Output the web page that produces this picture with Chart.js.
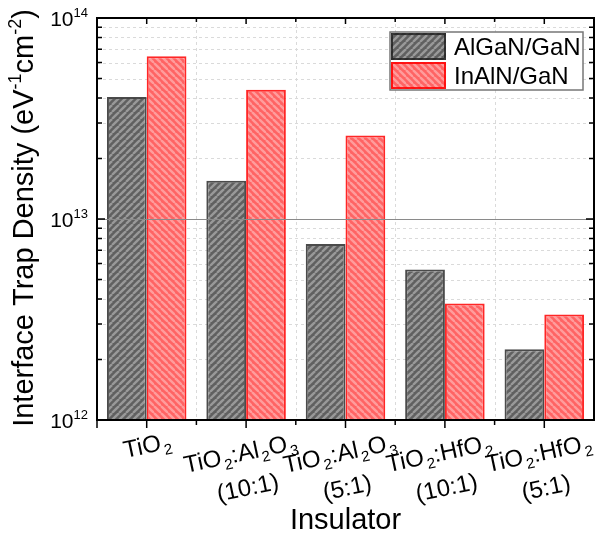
<!DOCTYPE html>
<html>
<head>
<meta charset="utf-8">
<script src="https://cdn.jsdelivr.net/npm/chart.js@4.4.0/dist/chart.umd.min.js"></script>
<style>
  html, body { margin: 0; padding: 0; background: #fff; }
</style>
</head>
<body>
<canvas id="chart" width="600" height="536"></canvas>
<script>
// data
const categories = ['TiO_2', 'TiO_2:Al_2O_3|(10:1)', 'TiO_2:Al_2O_3|(5:1)', 'TiO_2:HfO_2|(10:1)', 'TiO_2:HfO_2|(5:1)'];
const seriesNames = ['AlGaN/GaN', 'InAlN/GaN'];
const alganValues = [4.05e13, 1.55e13, 7.5e12, 5.6e12, 2.25e12];
const inalnValues = [6.45e13, 4.4e13, 2.6e13, 3.8e12, 3.35e12];
const yTickValues = [1e12, 1e13, 1e14];
const yTickLabels = ['10^{12}', '10^{13}', '10^{14}'];
const yTitle = 'Interface Trap Density (eV^{-1}cm^{-2})';
const xTitle = 'Insulator';

const FONT = '"Liberation Sans", Arial, sans-serif';

function stripes(bg, fg, dir) {
    const s = 7;
    const c = document.createElement('canvas');
    c.width = s; c.height = s;
    const g = c.getContext('2d');
    g.fillStyle = bg;
    g.fillRect(0, 0, s, s);
    g.strokeStyle = fg;
    g.lineWidth = 2.4;
    for (const o of [-s, 0, s]) {
        g.beginPath();
        if (dir === '/') { g.moveTo(o, s); g.lineTo(o + s, 0); }
        else { g.moveTo(o, 0); g.lineTo(o + s, s); }
        g.stroke();
    }
    return g.createPattern(c, 'repeat');
}

const ctx = document.getElementById('chart');
const grayPat = stripes('#606060', '#999999', '/');
const redPat = stripes('#ff6464', '#ff9c9c', '\\');

// tiny markup: _x subscript, ^{..} superscript, | new line
function parseRich(s) {
    const runs = [];
    let i = 0, buf = '';
    const push = (t, k) => { if (t) runs.push({ t, k }); };
    while (i < s.length) {
        const c = s[i];
        if (c === '_' || c === '^') {
            push(buf, 'n'); buf = '';
            let t;
            if (s[i + 1] === '{') { const j = s.indexOf('}', i); t = s.slice(i + 2, j); i = j + 1; }
            else { t = s[i + 1]; i += 2; }
            push(t, c === '_' ? 'sub' : 'sup');
        } else { buf += c; i++; }
    }
    push(buf, 'n');
    return runs;
}

function runFont(k, size) {
    const sz = k === 'n' ? size : Math.round(size * 0.62);
    return sz + 'px ' + FONT;
}

function richWidth(g, runs, size) {
    let w = 0;
    for (const r of runs) {
        g.font = runFont(r.k, size);
        w += g.measureText(r.t).width + (r.k === 'sub' ? size * 0.08 : 0);
    }
    return w;
}

function drawRich(g, text, x, y, size, align) {
    const runs = parseRich(text);
    const w = richWidth(g, runs, size);
    let cx = align === 'center' ? x - w / 2 : align === 'right' ? x - w : x;
    g.textAlign = 'left';
    g.textBaseline = 'alphabetic';
    for (const r of runs) {
        g.font = runFont(r.k, size);
        let dy = 0;
        if (r.k === 'sub') { cx += size * 0.08; dy = size * 0.22; }
        if (r.k === 'sup') dy = -size * 0.42;
        g.fillText(r.t, cx, y + dy);
        cx += g.measureText(r.t).width;
    }
}

const decor = {
    id: 'decor',
    beforeDatasetsDraw(chart) {
        const { ctx: g, chartArea: a, scales: { x, y } } = chart;
        g.save();
        g.strokeStyle = '#dadada';
        g.lineWidth = 1;
        g.setLineDash([3, 3]);
        for (let d = 12; d < 14; d++) {
            for (let k = 2; k <= 9; k++) {
                const py = Math.round(y.getPixelForValue(k * Math.pow(10, d))) + 0.5;
                g.beginPath(); g.moveTo(a.left, py); g.lineTo(a.right, py); g.stroke();
            }
        }
        for (let i = 0; i < categories.length - 1; i++) {
            const px = Math.round((x.getPixelForValue(i) + x.getPixelForValue(i + 1)) / 2) + 0.5;
            g.beginPath(); g.moveTo(px, a.top); g.lineTo(px, a.bottom); g.stroke();
        }
        g.restore();
    },
    afterDatasetsDraw(chart) {
        const { ctx: g, chartArea: a, scales: { x, y } } = chart;
        g.save();
        // major gridline at 10^13
        const p13 = Math.round(y.getPixelForValue(1e13)) + 0.5;
        g.strokeStyle = '#8a8a8a';
        g.lineWidth = 1;
        g.beginPath(); g.moveTo(a.left, p13); g.lineTo(a.right, p13); g.stroke();

        // frame
        g.strokeStyle = '#000';
        g.lineWidth = 2;
        g.strokeRect(a.left, a.top, a.right - a.left, a.bottom - a.top);

        // y ticks, both sides, inward
        g.lineWidth = 1.5;
        for (let d = 12; d <= 14; d++) {
            for (let k = 1; k <= 9; k++) {
                if (d === 14 && k > 1) break;
                const py = y.getPixelForValue(k * Math.pow(10, d));
                const len = k === 1 ? 8 : 5;
                g.beginPath();
                g.moveTo(a.left, py); g.lineTo(a.left + len, py);
                g.moveTo(a.right, py); g.lineTo(a.right - len, py);
                g.stroke();
            }
        }
        // x ticks: bottom outward, top inward
        for (let i = 0; i < categories.length; i++) {
            const px = x.getPixelForValue(i);
            g.beginPath();
            g.moveTo(px, a.bottom); g.lineTo(px, a.bottom + 8);
            g.moveTo(px, a.top); g.lineTo(px, a.top + 6);
            g.stroke();
            if (i < categories.length - 1) {
                const mx = (px + x.getPixelForValue(i + 1)) / 2;
                g.beginPath();
                g.moveTo(mx, a.bottom); g.lineTo(mx, a.bottom + 5);
                g.moveTo(mx, a.top); g.lineTo(mx, a.top + 4);
                g.stroke();
            }
        }
        g.beginPath();
        g.moveTo(a.left, a.bottom); g.lineTo(a.left, a.bottom + 8);
        g.stroke();

        g.fillStyle = '#000';
        // y tick labels
        yTickValues.forEach((v, i) => {
            const py = y.getPixelForValue(v);
            drawRich(g, yTickLabels[i], a.left - 9, py + 8, 21, 'right');
        });

        // x category labels, tilted
        categories.forEach((c, i) => {
            const px = x.getPixelForValue(i);
            const lines = c.split('|');
            g.save();
            if (lines.length === 1) {
                g.translate(px + 2, a.bottom + 33);
            } else {
                g.translate(px - 4, a.bottom + 41);
            }
            g.rotate(-12 * Math.PI / 180);
            lines.forEach((ln, j) => drawRich(g, ln, 0, j * 35, 24, 'center'));
            g.restore();
        });

        // axis titles
        drawRich(g, xTitle, (a.left + a.right) / 2, 529, 29, 'center');
        g.save();
        g.translate(33, 218);
        g.rotate(-Math.PI / 2);
        drawRich(g, yTitle, 0, 0, 29, 'center');
        g.restore();

        // legend inside the plot
        const lx = 390, ly = 32, lw = 193, lh = 58;
        g.fillStyle = '#fff';
        g.fillRect(lx, ly, lw, lh);
        g.strokeStyle = '#777';
        g.lineWidth = 1.5;
        g.strokeRect(lx, ly, lw, lh);
        chart.data.datasets.forEach((ds, i) => {
            const sy = ly + 1 + i * 29;
            g.fillStyle = ds.backgroundColor;
            g.fillRect(lx + 1, sy, 55, 27);
            g.strokeStyle = ds.borderColor;
            g.lineWidth = 2;
            g.strokeRect(lx + 2, sy + 1, 53, 25);
            g.fillStyle = '#000';
            g.font = '24px ' + FONT;
            g.textAlign = 'left';
            g.textBaseline = 'alphabetic';
            g.fillText(ds.label, lx + 64, sy + 22);
        });
        g.restore();
    }
};

new Chart(ctx, {
    type: 'bar',
    data: {
        labels: categories,
        datasets: [{
            label: seriesNames[0],
            data: alganValues,
            backgroundColor: grayPat,
            borderColor: 'rgba(30,30,30,0.8)',
            borderWidth: 2
        }, {
            label: seriesNames[1],
            data: inalnValues,
            backgroundColor: redPat,
            borderColor: 'rgba(255,0,0,0.85)',
            borderWidth: 2
        }]
    },
    options: {
        responsive: false,
        animation: false,
        layout: { padding: { left: 97, top: 18, right: 6, bottom: 116 } },
        datasets: { bar: { categoryPercentage: 0.8, barPercentage: 1 } },
        scales: {
            x: { display: false },
            y: { type: 'logarithmic', display: false, min: 1e12, max: 1e14 }
        },
        plugins: { legend: { display: false }, tooltip: { enabled: false } }
    },
    plugins: [decor]
});
</script>
</body>
</html>
